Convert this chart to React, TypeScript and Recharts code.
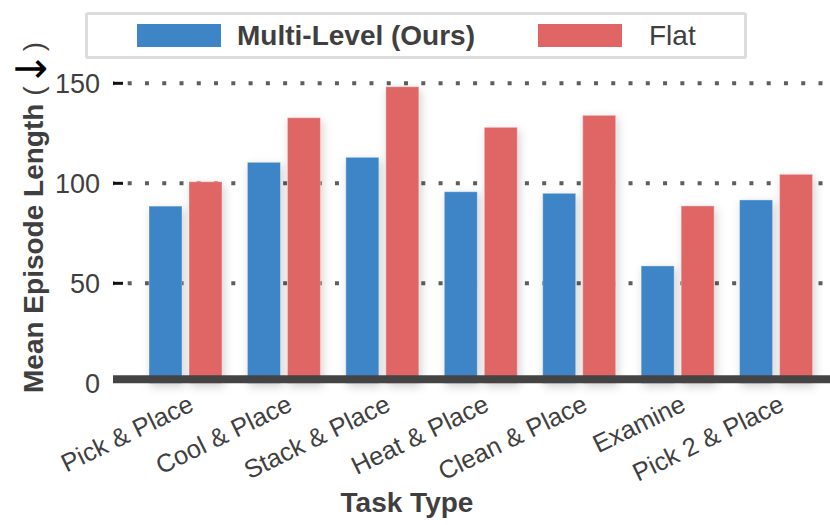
import React from 'react';
import { BarChart, Bar, XAxis, YAxis, CartesianGrid } from 'recharts';

const tasks = ['Pick & Place', 'Cool & Place', 'Stack & Place', 'Heat & Place', 'Clean & Place', 'Examine', 'Pick 2 & Place'];
const multiLevel = [88.6, 110.5, 113, 95.8, 95, 58.7, 91.7];
const flatValues = [100.8, 132.8, 148.3, 128, 134, 88.7, 104.5];
const yTicks = [0, 50, 100, 150];
const seriesNames = ['Multi-Level (Ours)', 'Flat'];
const seriesColors = ['#3d85c6', '#e06666'];
const xTitle = 'Task Type';
const yTitle = 'Mean Episode Length ';

const data = tasks.map((t, i) => ({ task: t, multi: multiLevel[i], flat: flatValues[i] }));

const FONT = '"Liberation Sans", Arial, Helvetica, sans-serif';
const TEXT = '#3f3f3f';
const PLOT_LEFT = 113;

const ShadowBar = (props: any) => {
  const { x, y, width, height, fill } = props;
  if (height <= 0) return null;
  return (
    <rect
      x={x}
      y={y}
      width={width}
      height={height}
      fill={fill}
      stroke="rgba(255,255,255,0.35)"
      strokeWidth={1}
      style={{ filter: 'drop-shadow(2px 3px 5px rgba(0,0,0,0.18))' }}
    />
  );
};

const XTick = (props: any) => {
  const { x, payload } = props;
  const ax = x + 10;
  const ay = 410;
  return (
    <text
      x={ax}
      y={ay}
      textAnchor="end"
      transform={`rotate(-26, ${ax}, ${ay})`}
      fontFamily={FONT}
      fontSize={25.5}
      fill={TEXT}
    >
      {payload.value}
    </text>
  );
};

const YTick = (props: any) => {
  const { y, payload } = props;
  return (
    <g>
      <text x={100} y={y} dy={9.5} textAnchor="end" fontFamily={FONT} fontSize={27} fill={TEXT}>
        {payload.value}
      </text>
      {payload.value !== 0 && (
        <line x1={PLOT_LEFT} x2={PLOT_LEFT + 10} y1={y} y2={y} stroke="#111" strokeWidth={3} />
      )}
    </g>
  );
};

const GridLine = (props: any) => {
  const { x1, x2, y1, y2 } = props;
  if (Math.abs(y1 - 383.3) < 2) return <g />;
  return (
    <line
      x1={x1}
      x2={x2}
      y1={y1}
      y2={y2}
      stroke="#5e5e5e"
      strokeWidth={4}
      strokeDasharray="4 13.27"
      strokeDashoffset={2.57}
    />
  );
};

export default function App() {
  return (
    <div style={{ position: 'absolute', left: 0, top: 0, width: 830, height: 525, background: '#fff' }}>
      <BarChart
        width={830}
        height={525}
        data={data}
        margin={{ top: 83.33, right: 0, left: 0, bottom: 21.67 }}
        barSize={33}
        barGap={7}
      >
        <CartesianGrid vertical={false} horizontal={(p: any) => <GridLine {...p} />} />
        <XAxis
          dataKey="task"
          interval={0}
          height={120}
          tickLine={false}
          tick={<XTick />}
          padding={{ left: 23, right: 5 }}
          axisLine={{ stroke: '#444', strokeWidth: 8, transform: 'translate(0,-4)' } as any}
          label={{
            content: () => (
              <text x={407} y={512} textAnchor="middle" fontFamily={FONT} fontSize={28} fontWeight="bold" fill={TEXT}>
                {xTitle}
              </text>
            ),
          }}
        />
        <YAxis
          width={113}
          domain={[0, 150]}
          ticks={yTicks}
          axisLine={false}
          tickLine={false}
          tick={<YTick />}
          label={{
            content: () => (
              <text
                x={-393}
                y={43}
                transform="rotate(-90)"
                textAnchor="start"
                fontFamily={FONT}
                fontSize={28}
                fontWeight="bold"
                fill={TEXT}
              >
                {yTitle}
                <tspan fontWeight="normal" fill={TEXT}>(</tspan>
                <tspan fontWeight="normal" fontSize={42} fill="#000" fontFamily="DejaVu Sans" dy={3}>↓</tspan>
                <tspan fontWeight="normal" fill={TEXT} dy={-3}>)</tspan>
              </text>
            ),
          }}
        />
        <Bar dataKey="multi" name={seriesNames[0]} fill={seriesColors[0]} isAnimationActive={false} shape={ShadowBar} />
        <Bar dataKey="flat" name={seriesNames[1]} fill={seriesColors[1]} isAnimationActive={false} shape={ShadowBar} />
      </BarChart>
      <div
        style={{
          position: 'absolute',
          left: 85,
          top: 12,
          width: 662,
          height: 47,
          boxSizing: 'border-box',
          border: '3px solid #dcdcdc',
          borderRadius: 3,
          background: '#fff',
          fontFamily: FONT,
          fontSize: 28,
          color: TEXT,
        }}
      >
        <div style={{ position: 'absolute', left: 49, top: 9, width: 84, height: 23, background: seriesColors[0] }} />
        <div style={{ position: 'absolute', left: 149, top: 2, lineHeight: '37px', fontWeight: 'bold', whiteSpace: 'nowrap' }}>
          {seriesNames[0]}
        </div>
        <div style={{ position: 'absolute', left: 450, top: 9, width: 84, height: 23, background: seriesColors[1] }} />
        <div style={{ position: 'absolute', left: 561, top: 2, lineHeight: '37px', whiteSpace: 'nowrap' }}>
          {seriesNames[1]}
        </div>
      </div>
    </div>
  );
}
